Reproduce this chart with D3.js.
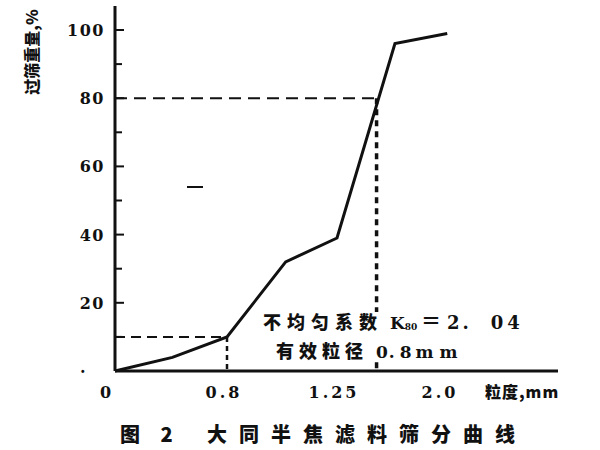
<!DOCTYPE html>
<html><head><meta charset="utf-8">
<script src="https://cdn.jsdelivr.net/npm/d3@7"></script>
<style>body{margin:0;background:#fff}svg{display:block}</style>
</head><body>
<svg id="c" width="600" height="450"></svg>
<script>
// ---- data ----
const sizeMm   = [0, 0.41, 0.8, 1.04, 1.25, 1.66, 2.03];   // particle size, mm
const passPct  = [0, 4, 10, 32, 39, 96, 99];               // passing weight, %
const xTickVals = [0, 0.8, 1.25, 2.0];
const xTickLabels = ["0", "0.8", "1.25", "2.0"];
const yTickVals = [20, 40, 60, 80, 100];
const yMinorVals = [10, 30, 50, 70, 90];
const d10 = 0.8, d10Pct = 10;
const d80 = 1.53, d80Pct = 80;
const yTitle = "过筛重量,%";
const xTitle = "粒度,mm";
const note1 = "不均匀系数";
const note1K = "K";
const note1Sub = "80";
const note1Eq = "＝";
const note1Val = "2.04";
const note2 = "有效粒径";
const note2Val = "0.8mm";
const captionFig = "图 2";
const caption = "大同半焦滤料筛分曲线";

const svg = d3.select("#c");
const x = d3.scaleLinear().domain([0, 0.8, 1.25, 2.0]).range([115, 227, 337, 443]);
const y = d3.scaleLinear().domain([0, 100]).range([371, 30]);
const ink = "#111";
const tickFont = "DejaVu Serif, serif";
const cjk = "Noto Sans CJK SC, sans-serif";

// dashed guides
svg.append("line").attr("x1", x(0)).attr("x2", x(d10)).attr("y1", y(d10Pct)).attr("y2", y(d10Pct))
  .attr("stroke", ink).attr("stroke-width", 2).attr("stroke-dasharray", "10,6");
svg.append("line").attr("x1", x(d10)).attr("x2", x(d10)).attr("y1", y(d10Pct)).attr("y2", y(0))
  .attr("stroke", ink).attr("stroke-width", 2.5).attr("stroke-dasharray", "5,4");
svg.append("line").attr("x1", x(0)).attr("x2", x(d80)).attr("y1", y(d80Pct)).attr("y2", y(d80Pct))
  .attr("stroke", ink).attr("stroke-width", 2).attr("stroke-dasharray", "12,7");
svg.append("line").attr("x1", x(d80)).attr("x2", x(d80)).attr("y1", y(d80Pct)).attr("y2", y(0))
  .attr("stroke", ink).attr("stroke-width", 3.5).attr("stroke-dasharray", "6,5");

// curve
svg.append("path").datum(sizeMm.map((v, i) => [v, passPct[i]]))
  .attr("d", d3.line().x(d => x(d[0])).y(d => y(d[1])))
  .attr("fill", "none").attr("stroke", ink).attr("stroke-width", 3).attr("stroke-linejoin", "miter");

// y axis
const yAxis = svg.append("g").attr("transform", `translate(${x(0)},0)`);
yAxis.append("line").attr("x1", 0).attr("x2", 0).attr("y1", 6).attr("y2", y(0))
  .attr("stroke", ink).attr("stroke-width", 3);
yAxis.selectAll("line.maj").data(yTickVals).join("line").attr("class", "maj")
  .attr("x1", 0).attr("x2", 9).attr("y1", d => y(d)).attr("y2", d => y(d))
  .attr("stroke", ink).attr("stroke-width", 2);
yAxis.selectAll("line.min").data(yMinorVals).join("line").attr("class", "min")
  .attr("x1", 0).attr("x2", 7).attr("y1", d => y(d)).attr("y2", d => y(d))
  .attr("stroke", ink).attr("stroke-width", 2);
yAxis.selectAll("text").data(yTickVals).join("text")
  .attr("x", -10).attr("y", d => y(d) + 6).attr("text-anchor", "end")
  .attr("font-family", tickFont).attr("font-size", 16).attr("font-weight", "bold")
  .attr("letter-spacing", 1.5).attr("fill", ink).text(d => d);
svg.append("text").attr("x", 80).attr("y", y(0) + 2).attr("font-family", tickFont)
  .attr("font-size", 16).attr("font-weight", "bold").attr("fill", ink).text(".");

// x axis
const xAxis = svg.append("g").attr("transform", `translate(0,${y(0)})`);
xAxis.append("line").attr("x1", x(0)).attr("x2", 558).attr("y1", 0).attr("y2", 0)
  .attr("stroke", ink).attr("stroke-width", 3);
xAxis.selectAll("text").data(xTickVals).join("text")
  .attr("x", (d, i) => i === 0 ? x(d) - 8 : x(d) - 3).attr("y", 27).attr("text-anchor", "middle")
  .attr("font-family", tickFont).attr("font-size", 16).attr("font-weight", "bold")
  .attr("letter-spacing", 3).attr("fill", ink)
  .text((d, i) => xTickLabels[i]);
xAxis.append("text").attr("x", 485).attr("y", 27)
  .attr("font-family", cjk).attr("font-size", 16).attr("font-weight", 900).attr("letter-spacing", 1)
  .attr("fill", ink).text(xTitle);

// y title
svg.append("text").attr("transform", "translate(38,52) rotate(-90)").attr("text-anchor", "middle")
  .attr("font-family", cjk).attr("font-size", 16).attr("font-weight", 900)
  .attr("fill", ink).text(yTitle);

// stray mark
svg.append("line").attr("x1", 187).attr("x2", 203).attr("y1", 187).attr("y2", 187)
  .attr("stroke", ink).attr("stroke-width", 2);

// notes
const n1 = svg.append("g");
n1.append("rect").attr("x", 262).attr("y", 312).attr("width", 272).attr("height", 50).attr("fill", "#fff");
n1.append("text").attr("x", 263).attr("y", 329)
  .attr("font-family", cjk).attr("font-size", 18).attr("font-weight", 900).attr("letter-spacing", 6)
  .attr("fill", ink).text(note1);
const tk = n1.append("text").attr("x", 390).attr("y", 329).attr("fill", ink)
  .attr("font-family", tickFont).attr("font-weight", "bold");
tk.append("tspan").attr("font-size", 17).text(note1K);
tk.append("tspan").attr("font-size", 9).attr("dy", 1).text(note1Sub);
n1.append("text").attr("x", 421).attr("y", 329).attr("font-family", cjk).attr("font-size", 20)
  .attr("font-weight", "bold").attr("fill", ink).text(note1Eq);
n1.append("text").attr("x", 447).attr("y", 329).attr("font-family", tickFont).attr("font-size", 18)
  .attr("font-weight", "bold").attr("dx", "0 3 22 4").attr("fill", ink).text(note1Val);
n1.append("text").attr("x", 276).attr("y", 358)
  .attr("font-family", cjk).attr("font-size", 18).attr("font-weight", 900).attr("letter-spacing", 5)
  .attr("fill", ink).text(note2);
n1.append("text").attr("x", 376).attr("y", 358)
  .attr("font-family", tickFont).attr("font-size", 17).attr("font-weight", "bold").attr("dx", "0 1 5 4 6")
  .attr("fill", ink).text(note2Val);

// caption
svg.append("text").attr("x", 120).attr("y", 442)
  .attr("font-family", cjk).attr("font-size", 20).attr("font-weight", 900).attr("letter-spacing", 8)
  .attr("fill", ink).text(captionFig);
svg.append("text").attr("x", 207).attr("y", 442)
  .attr("font-family", cjk).attr("font-size", 20).attr("font-weight", 900).attr("letter-spacing", 12)
  .attr("fill", ink).text(caption);
</script>
</body></html>
